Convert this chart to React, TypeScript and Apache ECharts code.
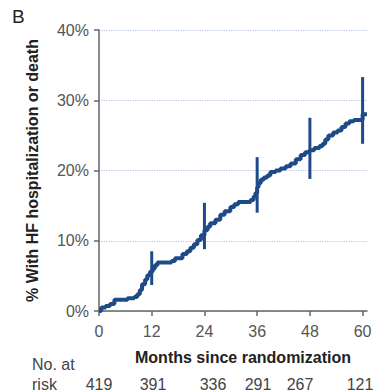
import React, { useEffect, useRef } from "react";
import * as echarts from "echarts";

// Kaplan-Meier style cumulative incidence (months, %)
const months = [0, 0.5, 1.5, 2.5, 3.5, 6.5, 8, 8.7, 9.3, 9.8, 10.5, 11, 11.6, 12.2, 12.7, 13.3, 16.5, 17.3, 19, 20, 20.8, 21.6, 22.4, 23.2, 24, 24.7, 25.3, 26.5, 27.6, 28.6, 29.9, 30.8, 31.7, 34.5, 35.2, 35.6, 36, 36.3, 36.8, 37.5, 38.3, 39, 40.2, 41.3, 42.5, 43.6, 44.8, 45.9, 46.9, 47.9, 49, 50.2, 50.9, 51.5, 52.2, 53.3, 54.3, 55.2, 56.1, 57, 58, 60, 61];
const percents = [0, 0.5, 0.7, 1.0, 1.6, 1.8, 2.0, 2.4, 3.0, 3.8, 4.5, 5.1, 5.6, 6.0, 6.5, 6.9, 7.1, 7.5, 8.1, 8.5, 9.0, 9.5, 10.1, 10.8, 11.5, 12.0, 12.5, 13.0, 13.7, 14.2, 14.8, 15.2, 15.5, 15.8, 16.3, 16.8, 17.6, 18.2, 18.7, 19.0, 19.3, 19.8, 20.0, 20.3, 20.6, 21.0, 21.6, 22.2, 22.6, 22.9, 23.2, 23.5, 23.8, 24.4, 25.0, 25.4, 25.7, 26.2, 26.7, 27.0, 27.2, 28.0, 28.0];

// Confidence intervals
const ciMonths = [12, 24, 36, 48, 60];
const ciLow = [3.7, 8.8, 14.0, 18.8, 23.8];
const ciHigh = [8.5, 15.4, 21.9, 27.5, 33.3];

// Axis ticks
const xTicks = [0, 12, 24, 36, 48, 60];
const yTicks = [0, 10, 20, 30, 40];

// Numbers at risk
const riskCounts = ["419", "391", "336", "291", "267", "121"];
const riskX = [99, 153, 213, 258, 300, 360];

const LINE = "#1f4a88";

export default function App() {
  const ref = useRef<HTMLDivElement>(null);
  useEffect(() => {
    if (!ref.current) return;
    const chart = echarts.init(ref.current, null, { renderer: "svg" });
    const font = "Liberation Sans, Arial, sans-serif";
    chart.setOption({
      animation: false,
      grid: { left: 99, right: 11, top: 30, bottom: 80, containLabel: false },
      xAxis: {
        type: "value",
        min: 0,
        max: 61,
        interval: 12,
        axisLine: { show: true, lineStyle: { color: "#666", width: 1.5 } },
        axisTick: { show: true, length: 5, customValues: xTicks, lineStyle: { color: "#666", width: 1.5 } },
        axisLabel: { customValues: xTicks, margin: 12, fontSize: 16, color: "#555", fontFamily: font },
        splitLine: { show: false },
      },
      yAxis: {
        type: "value",
        min: 0,
        max: 40,
        interval: 5,
        name: "% With HF hospitalization or death",
        nameLocation: "middle",
        nameGap: 59,
        nameRotate: 90,
        nameTextStyle: { fontSize: 16, fontWeight: "bold", color: "#222", fontFamily: font },
        axisLine: { show: true, lineStyle: { color: "#666", width: 1.5 } },
        axisTick: { show: true, length: 5, customValues: yTicks, lineStyle: { color: "#666", width: 1.5 } },
        axisLabel: {
          customValues: yTicks,
          margin: 10,
          fontSize: 16,
          color: "#555",
          fontFamily: font,
          formatter: (v: number) => v + "%",
        },
        splitLine: { show: true, lineStyle: { color: "#b3c4e6", type: "dotted", width: 1.2 } },
      },
      series: [
        {
          type: "line",
          step: "end",
          data: months.map((m, i) => [m, percents[i]]),
          showSymbol: false,
          lineStyle: { color: LINE, width: 4 },
          z: 3,
        },
        {
          type: "custom",
          data: ciMonths.map((m, i) => [m, ciLow[i], ciHigh[i]]),
          renderItem: (params: any, api: any) => {
            const x = api.value(0);
            const p1 = api.coord([x, api.value(1)]);
            const p2 = api.coord([x, api.value(2)]);
            return {
              type: "line",
              shape: { x1: p1[0], y1: p1[1], x2: p2[0], y2: p2[1] },
              style: { stroke: LINE, lineWidth: 3 },
            };
          },
          z: 4,
        },
      ],
      graphic: [
        { type: "text", left: 12, top: 7, style: { text: "B", fontSize: 19, fill: "#222", fontFamily: font } },
        {
          type: "text",
          x: 243,
          y: 357,
          style: { text: "Months since randomization", fontSize: 16, fontWeight: "bold", fill: "#222", fontFamily: font, align: "center", verticalAlign: "middle" },
        },
        { type: "text", x: 32, y: 364, style: { text: "No. at", fontSize: 16, fill: "#444", fontFamily: font, verticalAlign: "middle" } },
        { type: "text", x: 32, y: 384, style: { text: "risk", fontSize: 16, fill: "#444", fontFamily: font, verticalAlign: "middle" } },
        ...riskCounts.map((t, i) => ({
          type: "text",
          x: riskX[i],
          y: 384,
          style: { text: t, fontSize: 16, fill: "#444", fontFamily: font, align: "center", verticalAlign: "middle" },
        })),
      ],
    });
    return () => chart.dispose();
  }, []);
  return <div ref={ref} style={{ width: 378, height: 391, position: "absolute", left: 0, top: 0 }} />;
}
